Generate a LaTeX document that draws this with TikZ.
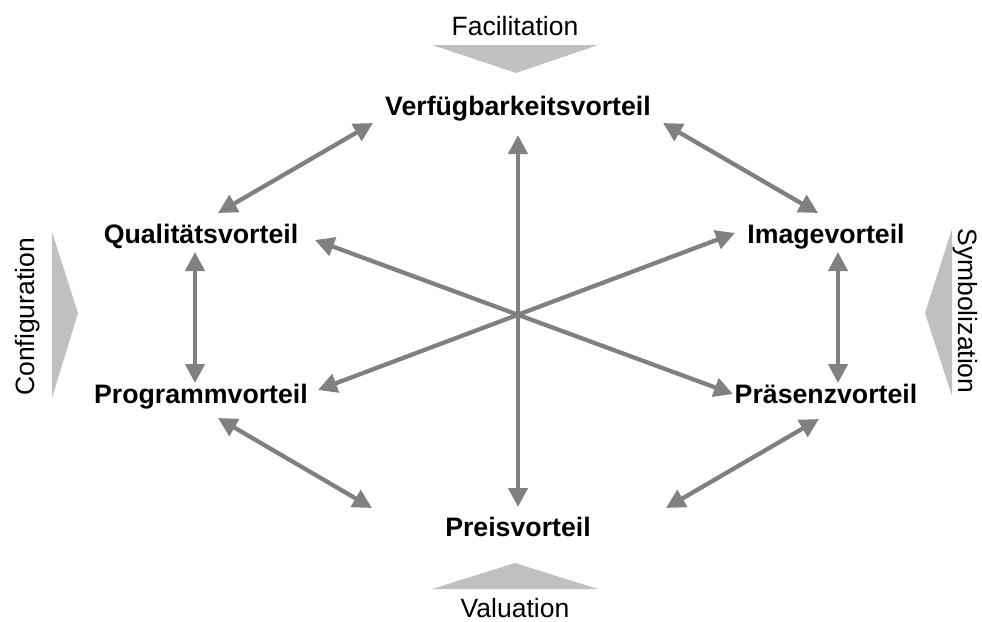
\documentclass[tikz,border=0pt]{standalone}
\usepackage{fontspec}
\setmainfont{Liberation Sans}
\usetikzlibrary{arrows.meta,calc}
\definecolor{arrowgray}{HTML}{808080}
\definecolor{wedgegray}{HTML}{C0C0C0}
\tikzset{
  adv/.style={font=\fontsize{26.7}{32}\selectfont\bfseries, inner sep=0pt, outer sep=0pt,
    text height=19pt, text depth=5pt, anchor=base},
  mode/.style={font=\fontsize{26.5}{32}\selectfont, inner sep=0pt, outer sep=0pt, anchor=base},
  link/.style={draw=arrowgray, line width=4.3pt,
    {Triangle[length=19pt,width=19pt]}-{Triangle[length=19pt,width=19pt]}},
  wedge/.style={fill=wedgegray, draw=none}
}
\begin{document}
\begin{tikzpicture}[x=1pt,y=-1pt]
\useasboundingbox (0,0) rectangle (982,621);

% the six advantages
\node[adv] (V)  at (518,115) {Verfügbarkeitsvorteil};
\node[adv] (Q)  at (201,243) {Qualitätsvorteil};
\node[adv] (I)  at (826,243) {Imagevorteil};
\node[adv] (Pg) at (201,403) {Programmvorteil};
\node[adv] (Pr) at (826,403) {Präsenzvorteil};
\node[adv] (Ps) at (518,536) {Preisvorteil};

% the four value-creation modes and their wedges
\node[mode] (fac) at (515,35.5) {Facilitation};
\node[mode] (val) at (515,617) {Valuation};
\node[mode, rotate=90]  (con) at (34.5,317) {Configuration};
\node[mode, rotate=-90] (sym) at (958,311) {Symbolization};

\fill[wedge] (432,45) -- (598,45) -- (516,73) -- cycle;
\fill[wedge] (432,589) -- (598,589) -- (515,563) -- cycle;
\fill[wedge] (52,232) -- (52,398) -- (78,313) -- cycle;
\fill[wedge] (952,229) -- (952,396) -- (925,313) -- cycle;

% cross links through the centre
\draw[link] ($(V.base)+(0,20)$) -- ($(Ps.base)+(0,-29)$);
\draw[link] ($(Q.base)+(114,-3)$) -- ($(Pr.base)+(-93,-9)$);
\draw[link] ($(Pg.base)+(117,-13)$) -- ($(I.base)+(-91,-10)$);

% links around the ring
\draw[link] ($(V.base)+(-145,8)$) -- ($(Q.base)+(17,-30)$);
\draw[link] ($(V.base)+(145,8)$) -- ($(I.base)+(-8,-30)$);
\draw[link] ($(Pg.base)+(17,15)$) -- ($(Ps.base)+(-146,-28)$);
\draw[link] ($(Pr.base)+(-7,16)$) -- ($(Ps.base)+(148,-28)$);
\draw[link] ($(Q.base)+(-6,9)$) -- ($(Pg.base)+(-6,-20)$);
\draw[link] ($(I.base)+(12,9)$) -- ($(Pr.base)+(12,-20)$);
\end{tikzpicture}
\end{document}
